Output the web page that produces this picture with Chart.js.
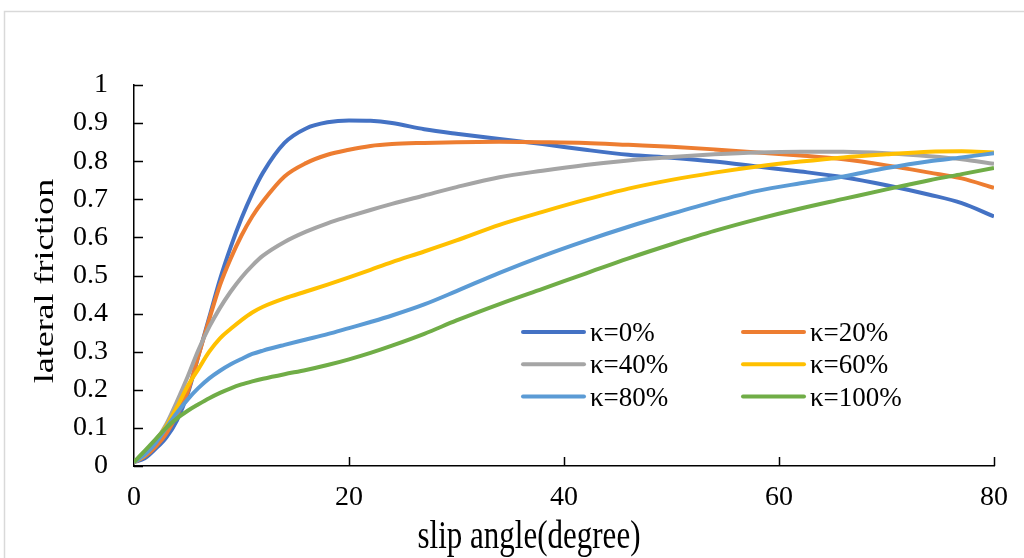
<!DOCTYPE html>
<html>
<head>
<meta charset="utf-8">
<title>lateral friction vs slip angle</title>
<script src="https://cdn.jsdelivr.net/npm/chart.js@4/dist/chart.umd.min.js"></script>
<style>
  html, body { margin: 0; padding: 0; background: #fff; }
  #wrap { width: 1024px; height: 558px; }
</style>
</head>
<body>
<div id="wrap"><canvas id="frictionChart" width="1024" height="558"></canvas></div>
<script>
// slip angle samples (degree)
const slipAngle = [0, 1, 2, 3, 4, 5, 6, 7, 8, 9, 10, 11, 12, 14, 16, 18, 20, 22, 24, 27, 30, 34, 38, 42, 46, 50, 54, 58, 62, 66, 70, 74, 77, 80];

const seriesNames = ["κ=0%", "κ=20%", "κ=40%", "κ=60%", "κ=80%", "κ=100%"];
const seriesColors = ["#4472C4", "#ED7D31", "#A5A5A5", "#FFC000", "#5B9BD5", "#70AD47"];

const kappa0 = [0.01, 0.02, 0.045, 0.075, 0.12, 0.19, 0.29, 0.39, 0.49, 0.575, 0.65, 0.715, 0.77, 0.848, 0.886, 0.902, 0.907, 0.906, 0.900, 0.884, 0.872, 0.858, 0.845, 0.830, 0.817, 0.809, 0.799, 0.786, 0.773, 0.758, 0.737, 0.712, 0.690, 0.655];
const kappa20 = [0.01, 0.025, 0.05, 0.085, 0.135, 0.195, 0.29, 0.385, 0.475, 0.545, 0.605, 0.655, 0.695, 0.760, 0.795, 0.817, 0.830, 0.840, 0.845, 0.848, 0.850, 0.851, 0.850, 0.848, 0.843, 0.838, 0.831, 0.823, 0.815, 0.805, 0.789, 0.770, 0.755, 0.730];
const kappa40 = [0.01, 0.03, 0.065, 0.11, 0.17, 0.235, 0.305, 0.365, 0.415, 0.458, 0.495, 0.526, 0.552, 0.588, 0.615, 0.637, 0.655, 0.672, 0.688, 0.710, 0.732, 0.758, 0.775, 0.790, 0.802, 0.811, 0.818, 0.823, 0.825, 0.825, 0.821, 0.813, 0.805, 0.793];
const kappa60 = [0.01, 0.03, 0.065, 0.105, 0.155, 0.21, 0.255, 0.30, 0.335, 0.36, 0.383, 0.403, 0.418, 0.440, 0.458, 0.476, 0.495, 0.515, 0.535, 0.563, 0.592, 0.633, 0.667, 0.699, 0.728, 0.751, 0.770, 0.786, 0.799, 0.810, 0.818, 0.825, 0.826, 0.823];
const kappa80 = [0.01, 0.03, 0.06, 0.10, 0.14, 0.175, 0.205, 0.23, 0.25, 0.267, 0.281, 0.294, 0.303, 0.318, 0.332, 0.346, 0.362, 0.378, 0.395, 0.424, 0.459, 0.507, 0.551, 0.591, 0.628, 0.662, 0.694, 0.722, 0.742, 0.760, 0.782, 0.800, 0.810, 0.821];
const kappa100 = [0.01, 0.04, 0.07, 0.10, 0.125, 0.145, 0.162, 0.178, 0.192, 0.204, 0.214, 0.222, 0.229, 0.241, 0.252, 0.265, 0.280, 0.297, 0.316, 0.347, 0.382, 0.425, 0.465, 0.505, 0.545, 0.582, 0.617, 0.648, 0.676, 0.701, 0.726, 0.750, 0.766, 0.782];

const seriesValues = [kappa0, kappa20, kappa40, kappa60, kappa80, kappa100];

const xTickLabels = ["0", "20", "40", "60", "80"];
const yTickLabels = ["0", "0.1", "0.2", "0.3", "0.4", "0.5", "0.6", "0.7", "0.8", "0.9", "1"];

const SERIF = "'Liberation Serif', 'Times New Roman', serif";

// outer frame, inward tick marks, axis titles and the two-column legend
const decorations = {
  id: "decorations",
  beforeDraw(chart) {
    const ctx = chart.ctx;
    ctx.save();
    ctx.strokeStyle = "#d9d9d9";
    ctx.lineWidth = 1.5;
    ctx.strokeRect(4.5, 11.5, 1100, 600);
    ctx.restore();
  },
  afterDraw(chart) {
    const ctx = chart.ctx;
    const xs = chart.scales.x;
    const ys = chart.scales.y;
    ctx.save();

    // tick marks pointing into the plot
    ctx.strokeStyle = "#000";
    ctx.lineWidth = 1.5;
    ctx.beginPath();
    xs.ticks.forEach((t) => {
      if (t.value === xs.min) return;
      const px = Math.round(xs.getPixelForValue(t.value)) + 0.5;
      ctx.moveTo(px, ys.bottom);
      ctx.lineTo(px, ys.bottom - 9);
    });
    ys.ticks.forEach((t) => {
      const py = Math.round(ys.getPixelForValue(t.value)) + 0.5;
      ctx.moveTo(xs.left, py);
      ctx.lineTo(xs.left + 9, py);
    });
    ctx.stroke();

    ctx.fillStyle = "#000";
    ctx.textAlign = "center";
    ctx.textBaseline = "alphabetic";

    // x axis title
    ctx.save();
    ctx.translate(529, 548);
    ctx.scale(1, 1.3);
    ctx.font = "31px " + SERIF;
    ctx.fillText("slip angle(degree)", 0, 0);
    ctx.restore();

    // y axis title
    ctx.save();
    ctx.translate(53, 281);
    ctx.rotate(-Math.PI / 2);
    ctx.scale(1.33, 1);
    ctx.font = "27px " + SERIF;
    ctx.fillText("lateral friction", 0, 0);
    ctx.restore();

    // legend
    ctx.font = "27px " + SERIF;
    ctx.textAlign = "left";
    ctx.textBaseline = "middle";
    ctx.lineCap = "round";
    ctx.lineWidth = 4;
    chart.data.datasets.forEach((ds, i) => {
      const col = i % 2;
      const row = Math.floor(i / 2);
      const lx = 523 + col * 220;
      const ly = 332 + row * 32.3;
      ctx.strokeStyle = ds.borderColor;
      ctx.beginPath();
      ctx.moveTo(lx, ly);
      ctx.lineTo(lx + 61, ly);
      ctx.stroke();
      ctx.fillText(ds.label, lx + 67, ly + 2);
    });

    ctx.restore();
  },
};

const ctx = document.getElementById("frictionChart").getContext("2d");
const frictionChart = new Chart(ctx, {
  type: "line",
  data: {
    datasets: seriesValues.map((vals, i) => ({
      label: seriesNames[i],
      data: slipAngle.map((a, j) => ({ x: a, y: vals[j] })),
      borderColor: seriesColors[i],
      backgroundColor: seriesColors[i],
      borderWidth: 4,
      pointRadius: 0,
      fill: false,
      cubicInterpolationMode: "monotone",
      // later series sit on top
      order: seriesValues.length - 1 - i,
    })),
  },
  options: {
    responsive: false,
    animation: false,
    events: [],
    layout: {
      padding: { left: 0, right: 30, top: 85, bottom: 0 },
    },
    plugins: {
      legend: { display: false },
      tooltip: { enabled: false },
    },
    scales: {
      x: {
        type: "linear",
        min: 0,
        max: 80,
        grid: { display: false, drawTicks: false },
        border: { display: true, color: "#000", width: 1.5 },
        ticks: {
          stepSize: 20,
          padding: 15,
          color: "#000",
          font: { family: SERIF, size: 28 },
          callback: (v, i) => xTickLabels[i],
        },
        afterFit: (scale) => {
          scale.height = 92;
        },
      },
      y: {
        min: 0,
        max: 1,
        grid: { display: false, drawTicks: false },
        border: { display: true, color: "#000", width: 1.5 },
        ticks: {
          stepSize: 0.1,
          padding: 26,
          color: "#000",
          font: { family: SERIF, size: 28 },
          callback: (v, i) => yTickLabels[i],
        },
        afterFit: (scale) => {
          scale.width = 134;
        },
      },
    },
  },
  plugins: [decorations],
});
</script>
</body>
</html>
